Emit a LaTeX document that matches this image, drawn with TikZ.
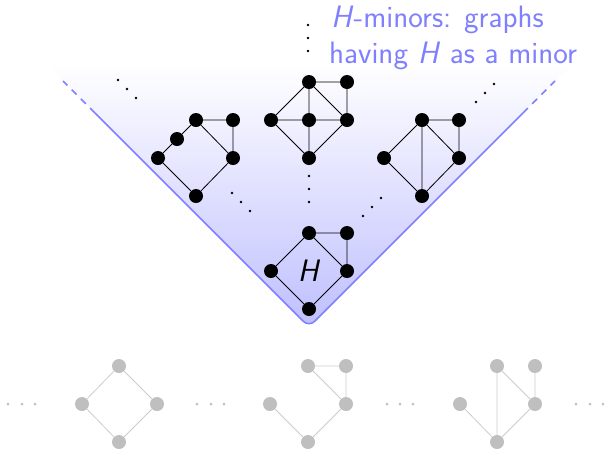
\documentclass[tikz,border=0pt]{standalone}
\usetikzlibrary{calc}
\begin{document}
\begin{tikzpicture}[x=1pt,y=-1pt,
  bn/.style={circle,fill=black,inner sep=0pt,minimum size=14pt},
  gn/.style={circle,fill=black!25,inner sep=0pt,minimum size=14pt},
  be/.style={black,line width=0.8pt},
  ge/.style={black!20,line width=0.8pt},
  dt/.style={circle,fill=black,inner sep=0pt,minimum size=2.6pt},
  gdt/.style={circle,fill=black!25,inner sep=0pt,minimum size=3pt},
  cone/.style={blue!50,line width=1.5pt},
  bigsf/.style={font=\sffamily\fontsize{31}{34}\selectfont},
  lbl/.style={bigsf,text=blue!50,anchor=base west,inner sep=0pt}]
\useasboundingbox (0,0) rectangle (604,448);
% cone
\shade[top color=white,bottom color=blue!25,rounded corners=8pt] (45,63) -- (309,327) -- (573,63) -- cycle;
\coordinate (ls) at (95,113);
\coordinate (lt) at (63,81);
\coordinate (rs) at (523,113);
\coordinate (rt) at (555,81);
\coordinate (ap) at (309,327);
\draw[cone,rounded corners=8pt] (ls) -- (ap) -- (rs);
\draw[cone,dash pattern=on 7pt off 6pt] (ls) -- (lt);
\draw[cone,dash pattern=on 7pt off 6pt] (rs) -- (rt);
% label
\node[lbl] (t1) at (331,27) {\textit{H}-minors: graphs};
\node[lbl] (t2) at (329,63) {having \textit{H} as a minor};
% H
\node[bn] (h1) at (309,233) {};
\node[bn] (h2) at (347,233) {};
\node[bn] (h3) at (271,271) {};
\node[bn] (h4) at (347,271) {};
\node[bn] (h5) at (309,309) {};
\node[bigsf,inner sep=0pt] (hl) at (309,271) {\textit{H}};
\draw[be] (h1)--(h2) (h1)--(h3) (h1)--(h4) (h2)--(h4) (h3)--(h5) (h4)--(h5);
% middle graph
\node[bn] (m1) at (309,82) {};
\node[bn] (m2) at (347,82) {};
\node[bn] (m3) at (271,120) {};
\node[bn] (m4) at (309,120) {};
\node[bn] (m5) at (347,120) {};
\node[bn] (m6) at (309,158) {};
\draw[be] (m1)--(m2) (m1)--(m3) (m1)--(m4) (m1)--(m5) (m2)--(m5) (m3)--(m4) (m4)--(m5) (m3)--(m6) (m4)--(m6) (m5)--(m6);
% left graph
\node[bn] (l1) at (196,120) {};
\node[bn] (l2) at (233,120) {};
\node[bn] (l3) at (177,139) {};
\node[bn] (l4) at (158,158) {};
\node[bn] (l5) at (233,158) {};
\node[bn] (l6) at (196,196) {};
\draw[be] (l4)--(l3) (l3)--(l1) (l1)--(l2) (l1)--(l5) (l2)--(l5) (l5)--(l6) (l4)--(l6);
% right graph
\node[bn] (r1) at (422,120) {};
\node[bn] (r2) at (459,120) {};
\node[bn] (r3) at (384,158) {};
\node[bn] (r4) at (459,158) {};
\node[bn] (r5) at (422,196) {};
\draw[be] (r1)--(r2) (r1)--(r3) (r1)--(r5) (r1)--(r4) (r2)--(r4) (r4)--(r5) (r3)--(r5);
% dots in cone
\foreach \x/\y [count=\i] in {309/176,309/189,309/202, 232/193,241/202,250/211, 381/198,372/207,363/216,
  308/25,308/38,308/51, 118/80,127/89,136/98, 476/102,485/93,494/84}
  \node[dt] (d\i) at (\x,\y) {};
% bottom grey graphs
\node[gn] (a1) at (119,366) {};
\node[gn] (a2) at (82,404) {};
\node[gn] (a3) at (157,404) {};
\node[gn] (a4) at (119,442) {};
\draw[ge] (a1)--(a2) (a1)--(a3) (a2)--(a4) (a3)--(a4);
\node[gn] (b1) at (308,366) {};
\node[gn] (b2) at (346,366) {};
\node[gn] (b3) at (270,404) {};
\node[gn] (b4) at (346,404) {};
\node[gn] (b5) at (308,442) {};
\draw[ge] (b1)--(b2) (b1)--(b4) (b2)--(b4) (b3)--(b5) (b4)--(b5);
\node[gn] (c1) at (497,366) {};
\node[gn] (c2) at (535,366) {};
\node[gn] (c3) at (460,404) {};
\node[gn] (c4) at (535,404) {};
\node[gn] (c5) at (497,442) {};
\draw[ge] (c1)--(c5) (c1)--(c4) (c2)--(c4) (c3)--(c5) (c4)--(c5);
\foreach \x [count=\i] in {8,22,35,197,211,224,387,400,413,576,590,603}
  \node[gdt] (g\i) at (\x,404) {};
\end{tikzpicture}
\end{document}
